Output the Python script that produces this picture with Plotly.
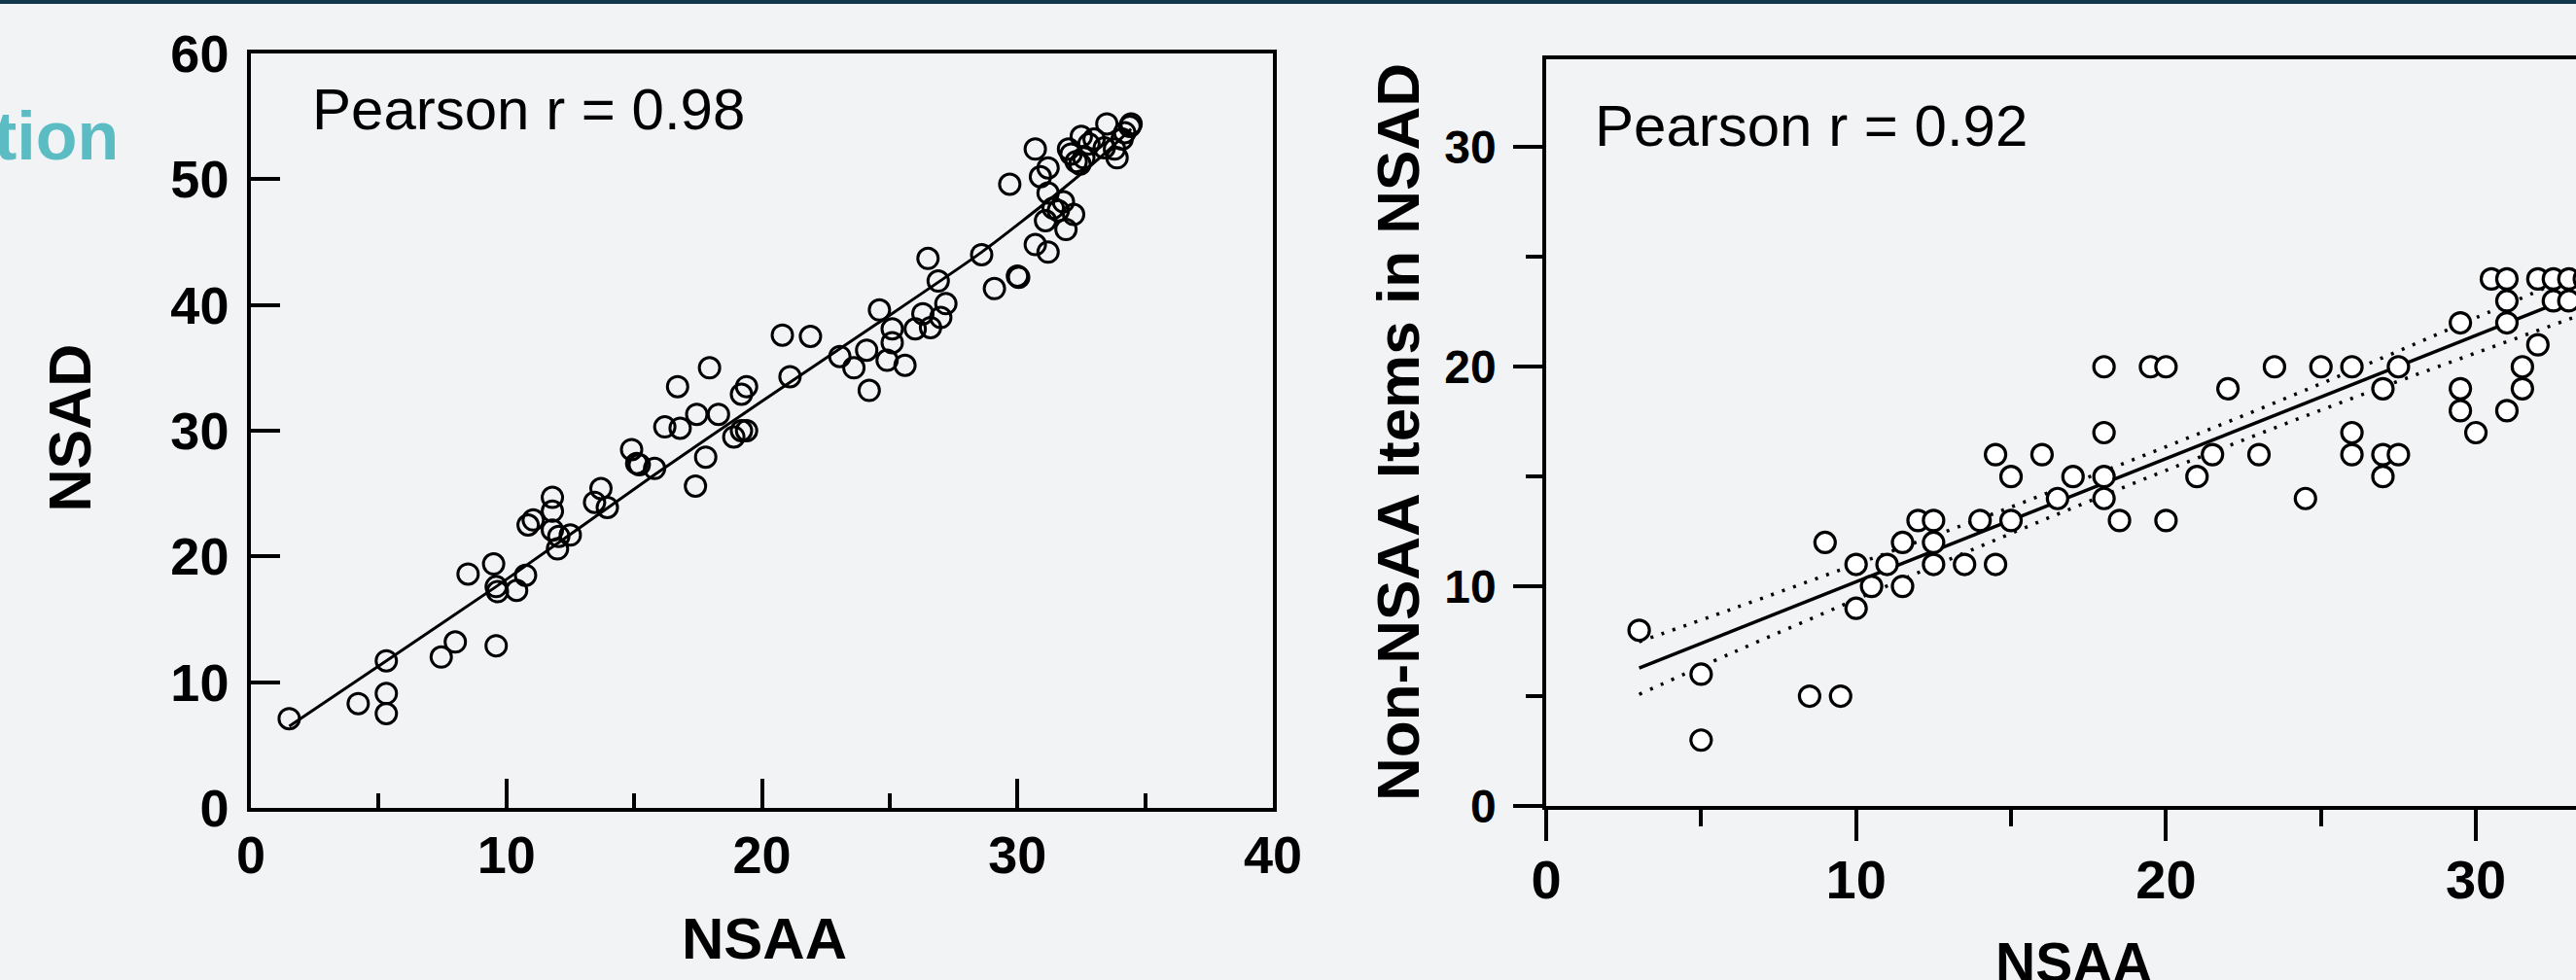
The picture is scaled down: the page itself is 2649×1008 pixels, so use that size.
import plotly.graph_objects as go

W, H = 2649, 1008

# ---------------- data: left panel (NSAA vs NSAD) ----------------
nsaa_left = [1.5, 4.2, 5.3, 5.3, 5.3, 7.45, 8.0, 8.5, 9.5, 9.6, 9.6, 9.65, 10.4, 10.75, 10.85,
             11.05, 11.8, 11.8, 11.8, 12.0, 12.05, 12.5, 13.45, 13.7, 13.95, 14.9, 15.1, 15.2,
             15.8, 16.2, 16.7, 16.8, 17.45, 17.4, 17.8, 17.95, 18.3, 18.9, 19.2, 19.2, 19.4,
             19.4, 20.8, 21.1, 21.9, 23.05, 23.6, 24.1, 24.2, 24.6, 24.9, 25.1, 25.1, 25.6,
             26.0, 26.3, 26.5, 26.6, 26.9, 27.0, 27.2, 28.6, 29.1, 29.7, 30.0, 30.05, 30.7,
             30.7, 30.9, 31.1, 31.2, 31.2, 31.2, 31.4, 31.6, 31.8, 31.9, 32.2, 32.0, 32.1,
             32.3, 32.5, 32.45, 32.6, 32.8, 33.0, 33.4, 33.5, 33.8, 33.9, 34.1, 34.2, 34.45, 34.4]
nsad_left = [7.1, 8.3, 11.7, 9.1, 7.5, 12.0, 13.2, 18.6, 19.4, 12.9, 17.6, 17.2, 17.3, 18.5, 22.5,
             22.9, 24.7, 23.6, 22.1, 20.6, 21.6, 21.7, 24.3, 25.4, 23.9, 28.5, 27.4, 27.3,
             27.0, 30.3, 33.5, 30.2, 31.3, 25.6, 27.9, 35.0, 31.3, 29.5, 30.0, 32.9, 33.5,
             30.0, 37.6, 34.3, 37.5, 35.9, 35.0, 36.4, 33.2, 39.6, 35.6, 38.1, 37.0, 35.2,
             38.1, 39.3, 43.7, 38.2, 41.9, 39.0, 40.1, 44.0, 41.3, 49.6, 42.3, 42.2, 52.4,
             44.8, 50.2, 46.7, 50.9, 44.2, 48.9, 47.7, 47.5, 48.2, 46.0, 47.2, 52.4, 52.0,
             51.4, 53.4, 51.2, 51.7, 52.8, 53.2, 52.5, 54.4, 52.4, 51.7, 53.2, 53.7, 54.4, 54.2]
fit_left_x = [1.5, 5.3, 9.6, 15.8, 19.9, 24.5, 28.6, 31.7, 33.5, 34.45]
fit_left_y = [6.5, 11.7, 17.6, 26.5, 32.2, 38.5, 44.2, 49.1, 52.2, 54.0]

# ---------------- data: right panel (NSAA vs non-NSAA items) ----------------
nsaa_right = [3, 5, 5, 8.5, 9.5, 9, 10, 10, 10.5, 11, 11.5, 11.5, 12, 12.5, 12.5, 12.5, 13.5,
              14, 14.5, 14.5, 15, 15, 16, 16.5, 17, 18, 18, 18, 18, 18.5, 19.5, 20, 20, 21,
              21.5, 22, 23, 23.5, 24.5, 25, 26, 26, 26, 27, 27, 27, 27.5, 27.5, 29.5, 29.5,
              29.5, 30, 30.5, 31, 31, 31, 31, 31.5, 31.5, 32, 32, 32.5, 32.5, 33, 33, 33.5]
items_right = [8, 6, 3, 5, 5, 12, 11, 9, 10, 11, 10, 12, 13, 13, 12, 11, 11,
               13, 16, 11, 15, 13, 16, 14, 15, 20, 17, 15, 14, 13, 20, 20, 13, 15,
               16, 19, 16, 20, 14, 20, 20, 17, 16, 19, 16, 15, 16, 20, 22, 19,
               18, 17, 24, 24, 23, 22, 18, 20, 19, 21, 24, 24, 23, 24, 23, 24]
fit_right_x = [3, 34]
fit_right_y = [6.28, 23.67]
band_x = [3, 6, 10, 14, 18, 22, 26, 30, 34]
band_upper = [7.48, 8.97, 11.01, 13.08, 15.25, 17.49, 19.82, 22.23, 24.67]
band_lower = [5.08, 6.97, 9.41, 11.82, 14.15, 16.39, 18.56, 20.63, 22.67]

# ---------------- text ----------------
r_left_text = "Pearson r = 0.98"
r_right_text = "Pearson r = 0.92"
x_title = "NSAA"
y_title_left = "NSAD"
y_title_right = "Non-NSAA Items in NSAD"
heading_fragment = "tion"

FONT = "Liberation Sans, Arial, Helvetica, sans-serif"
BLACK = "#000000"
BG = "#f2f3f5"


def px_x(p):
    return p / W


def px_y(p):
    return 1 - p / H


fig = go.Figure()

# left panel
fig.add_trace(go.Scatter(x=fit_left_x, y=fit_left_y, mode="lines", xaxis="x", yaxis="y",
                         line=dict(color=BLACK, width=3, shape="spline", smoothing=0.6),
                         hoverinfo="skip"))
fig.add_trace(go.Scatter(x=nsaa_left, y=nsad_left, mode="markers", xaxis="x", yaxis="y",
                         marker=dict(symbol="circle", size=21, color="rgba(0,0,0,0)",
                                     line=dict(color=BLACK, width=3))))

# right panel
fig.add_trace(go.Scatter(x=band_x, y=band_upper, mode="lines", xaxis="x2", yaxis="y2",
                         line=dict(color=BLACK, width=3.5, dash="3px,9px", shape="spline"),
                         hoverinfo="skip"))
fig.add_trace(go.Scatter(x=band_x, y=band_lower, mode="lines", xaxis="x2", yaxis="y2",
                         line=dict(color=BLACK, width=3.5, dash="3px,9px", shape="spline"),
                         hoverinfo="skip"))
fig.add_trace(go.Scatter(x=fit_right_x, y=fit_right_y, mode="lines", xaxis="x2", yaxis="y2",
                         line=dict(color=BLACK, width=3.5), hoverinfo="skip"))
fig.add_trace(go.Scatter(x=nsaa_right, y=items_right, mode="markers", xaxis="x2", yaxis="y2",
                         marker=dict(symbol="circle", size=21, color="white",
                                     line=dict(color=BLACK, width=3.2))))

axis_common = dict(showgrid=False, zeroline=False, showline=True, linecolor=BLACK,
                   linewidth=3.5, tickcolor=BLACK, tickwidth=3.5, automargin=False)

fig.update_layout(
    template="none",
    width=W, height=H, autosize=False,
    margin=dict(l=0, r=0, t=0, b=0, pad=0),
    paper_bgcolor=BG, plot_bgcolor="rgba(0,0,0,0)",
    showlegend=False,
    xaxis=dict(domain=[px_x(258), px_x(1309)], range=[0, 40], anchor="y",
               mirror=True, ticks="inside", ticklen=30, dtick=10, tick0=0,
               minor=dict(ticks="inside", ticklen=15, dtick=5, tickwidth=3.5, tickcolor=BLACK),
               tickfont=dict(family=FONT, size=54, color=BLACK, weight="bold"),
               ticklabelstandoff=-2, **axis_common),
    yaxis=dict(domain=[px_y(831), px_y(55)], range=[0, 60], anchor="x",
               mirror=True, ticks="inside", ticklen=30, dtick=10, tick0=0,
               tickfont=dict(family=FONT, size=54, color=BLACK, weight="bold"),
               ticklabelstandoff=8, **axis_common),
    xaxis2=dict(domain=[px_x(1590), 1.0], range=[0, 33.23], anchor="y2",
                mirror=True, ticks="outside", ticklen=32, dtick=10, tick0=0,
                minor=dict(ticks="outside", ticklen=17, dtick=5, tickwidth=3.5, tickcolor=BLACK),
                tickfont=dict(family=FONT, size=56, color=BLACK, weight="bold"),
                ticklabelstandoff=-8, **axis_common),
    yaxis2=dict(domain=[px_y(829), px_y(61)], range=[0, 34.0], anchor="x2",
                mirror=False, ticks="outside", ticklen=30, dtick=10, tick0=0,
                minor=dict(ticks="outside", ticklen=17, dtick=5, tickwidth=3.5, tickcolor=BLACK),
                tickfont=dict(family=FONT, size=48, color=BLACK, weight="bold"),
                ticklabelstandoff=8, **axis_common),
)

ann = []
ann.append(dict(text=r_left_text, x=px_x(319), y=px_y(112), xref="paper", yref="paper",
                xanchor="left", yanchor="middle", showarrow=False,
                font=dict(family=FONT, size=60, color=BLACK)))
ann.append(dict(text=r_right_text, x=px_x(1638), y=px_y(129), xref="paper", yref="paper",
                xanchor="left", yanchor="middle", showarrow=False,
                font=dict(family=FONT, size=60, color=BLACK)))
ann.append(dict(text=y_title_left, x=px_x(71.5), y=px_y(440), xref="paper", yref="paper",
                xanchor="center", yanchor="middle", textangle=-90, showarrow=False,
                font=dict(family=FONT, size=61, color=BLACK, weight="bold")))
ann.append(dict(text=x_title, x=px_x(786), y=px_y(965), xref="paper", yref="paper",
                xanchor="center", yanchor="middle", showarrow=False,
                font=dict(family=FONT, size=60, color=BLACK, weight="bold")))
ann.append(dict(text=y_title_right, x=px_x(1437), y=px_y(445), xref="paper", yref="paper",
                xanchor="center", yanchor="middle", textangle=-90, showarrow=False,
                font=dict(family=FONT, size=62, color=BLACK, weight="bold")))
ann.append(dict(text=x_title, x=px_x(2133), y=px_y(990), xref="paper", yref="paper",
                xanchor="center", yanchor="middle", showarrow=False,
                font=dict(family=FONT, size=57, color=BLACK, weight="bold")))
ann.append(dict(text=heading_fragment, x=px_x(124), y=px_y(140), xref="paper", yref="paper",
                xanchor="right", yanchor="middle", showarrow=False,
                font=dict(family=FONT, size=70, color="#5cbcc4", weight="bold")))
fig.update_layout(annotations=ann)

fig.add_shape(type="rect", xref="paper", yref="paper", x0=0, x1=1, y0=px_y(4), y1=1,
              fillcolor="#12374a", line=dict(width=0), layer="above")

fig.write_html("out.html", config={"displayModeBar": False},
               post_script="document.body.style.margin='0';document.body.style.overflow='hidden';")
